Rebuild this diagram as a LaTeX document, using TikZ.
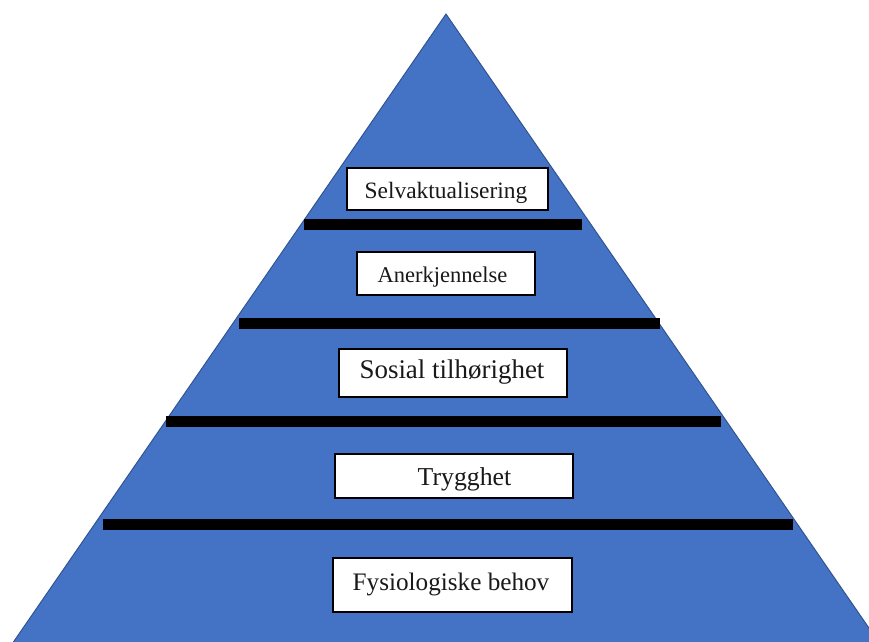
\documentclass[tikz,border=0pt]{standalone}
\usepackage{fontspec}
\setmainfont{Liberation Serif}
\definecolor{PyrBlue}{HTML}{4472C4}
\definecolor{PyrEdge}{HTML}{2F528F}

\begin{document}
\begin{tikzpicture}[x=0.03cm, y=-0.03cm,
  levelbox/.style={draw=black, fill=white, line width=0.9pt, inner sep=0pt},
  leveltext/.style={anchor=base, inner sep=0pt, text=black!90}]
\useasboundingbox (0,0) rectangle (869,641);
\clip (0,0) rectangle (869,641);

\filldraw[fill=PyrBlue, draw=PyrEdge, line width=0.8pt] (446,14) -- (891,660) -- (1,660) -- cycle;

%\fill[black] (304,219) rectangle (582,230);
\fill[black] (304,219) rectangle (582,230);
\fill[black] (239,318) rectangle (660,329);
\fill[black] (166,416) rectangle (721,427);
\fill[black] (103,519) rectangle (793,530);

\node[levelbox, minimum width=6.03cm, minimum height=1.26cm] (selvbox) at (447.5,189) {};
\node[levelbox, minimum width=5.34cm, minimum height=1.29cm] (anerbox) at (446,273.5) {};
\node[levelbox, minimum width=6.84cm, minimum height=1.44cm] (sosialbox) at (453,373) {};
\node[levelbox, minimum width=7.14cm, minimum height=1.32cm] (tryggbox) at (454,476) {};
\node[levelbox, minimum width=7.17cm, minimum height=1.62cm] (fysbox) at (452.5,585) {};

\node[leveltext, font=\fontsize{20}{24}\selectfont] (selv) at (446,198) {Selvaktualisering};
\node[leveltext, font=\fontsize{19.2}{23}\selectfont] (aner) at (442.5,282) {Anerkjennelse};
\node[leveltext, font=\fontsize{23}{27}\selectfont] (sosial) at (452,378) {Sosial tilhørighet};
\node[leveltext, font=\fontsize{22}{26}\selectfont] (trygg) at (464.5,485) {Trygghet};
\node[leveltext, font=\fontsize{21.5}{26}\selectfont] (fys) at (451,590) {Fysiologiske behov};

\end{tikzpicture}
\end{document}
